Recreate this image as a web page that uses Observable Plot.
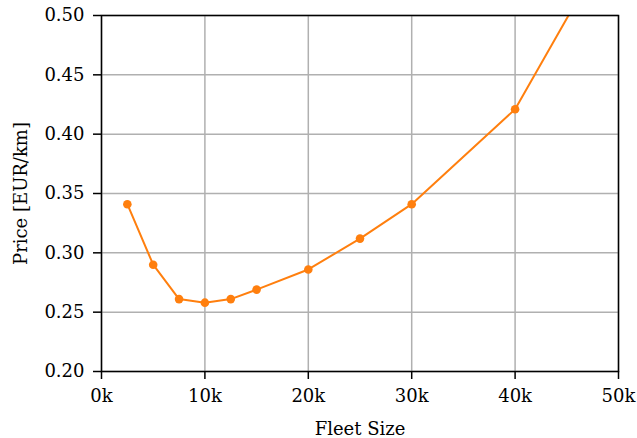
<!DOCTYPE html>
<html>
<head>
<meta charset="utf-8">
<script src="https://cdn.jsdelivr.net/npm/d3@7"></script>
<script src="https://cdn.jsdelivr.net/npm/@observablehq/plot@0.6"></script>
<style>
  html, body { margin: 0; padding: 0; background: #fff; }
  #chart svg { display: block; }
</style>
</head>
<body>
<div id="chart"></div>
<script>
const fleetSize = [2500, 5000, 7500, 10000, 12500, 15000, 20000, 25000, 30000, 40000, 50000];
const price = [0.341, 0.290, 0.261, 0.258, 0.261, 0.269, 0.286, 0.312, 0.341, 0.421, 0.574];
const xTicks = [0, 10000, 20000, 30000, 40000, 50000];
const yTicks = [0.20, 0.25, 0.30, 0.35, 0.40, 0.45, 0.50];

const data = fleetSize.map((f, i) => ({fleet: f, price: price[i]}));
const orange = "#ff7f0e";
const font = "'DejaVu Serif', serif";

const chart = Plot.plot({
  width: 637,
  height: 438,
  marginLeft: 101,
  marginRight: 19,
  marginTop: 15,
  marginBottom: 67,
  style: {fontFamily: font, fontSize: "18px", color: "#000", background: "#fff"},
  x: {domain: [0, 50000]},
  y: {domain: [0.2, 0.5]},
  marks: [
    Plot.ruleX(xTicks, {stroke: "#b0b0b0", strokeWidth: 1.5, strokeOpacity: 1}),
    Plot.ruleY(yTicks, {stroke: "#b0b0b0", strokeWidth: 1.5, strokeOpacity: 1}),
    Plot.axisX({
      ticks: xTicks,
      tickFormat: d => (d / 1000) + "k",
      tickSize: 8,
      tickPadding: 10,
      fontSize: 18,
      strokeWidth: 1.5,
      label: "Fleet Size",
      labelAnchor: "center",
      labelArrow: "none",
      labelOffset: 63
    }),
    Plot.axisY({
      ticks: yTicks,
      tickFormat: d3.format(".2f"),
      tickSize: 8,
      tickPadding: 9,
      fontSize: 18,
      strokeWidth: 1.5,
      label: "Price [EUR/km]",
      labelAnchor: "center",
      labelArrow: "none",
      labelOffset: 87
    }),
    Plot.line(data, {x: "fleet", y: "price", stroke: orange, strokeWidth: 2, clip: true}),
    Plot.dot(data, {x: "fleet", y: "price", fill: orange, r: 4.3, clip: true}),
    Plot.frame({stroke: "#000", strokeWidth: 1.5})
  ]
});
document.getElementById("chart").appendChild(chart);
</script>
</body>
</html>
